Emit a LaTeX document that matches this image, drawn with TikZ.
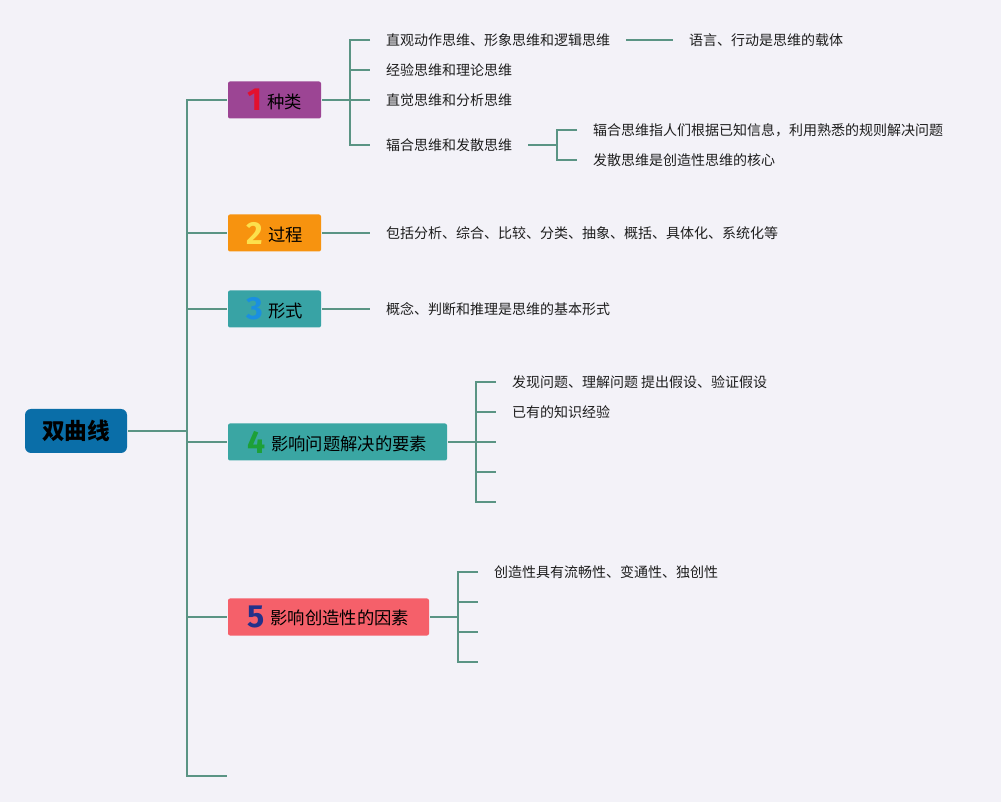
\documentclass[tikz,border=0pt]{standalone}
\usepackage{fontspec}
\newfontfamily\cjk{Noto Sans CJK SC}
\newfontfamily\numfont{Fira Sans}

\definecolor{bgcol}{RGB}{243,242,248}
\definecolor{linecol}{RGB}{90,148,132}
\definecolor{textcol}{RGB}{30,30,30}
\definecolor{rootcol}{RGB}{10,110,168}
\definecolor{kindcol}{RGB}{156,69,148}
\definecolor{proccol}{RGB}{247,147,15}
\definecolor{formcol}{RGB}{56,163,165}
\definecolor{elemcol}{RGB}{58,166,163}
\definecolor{factcol}{RGB}{245,96,106}
\definecolor{numA}{RGB}{227,16,47}
\definecolor{numB}{RGB}{252,224,76}
\definecolor{numC}{RGB}{27,143,224}
\definecolor{numD}{RGB}{29,160,56}
\definecolor{numE}{RGB}{35,49,138}

\newcommand{\ktopic}[3]{{\numfont\bfseries\fontsize{24}{24}\selectfont\color{#1}#2}\hspace{4pt}\raisebox{2pt}{#3}}

\tikzset{every picture/.style={line width=1.5pt}}
\tikzset{
  branch/.style={draw=linecol, line width=1.5pt},
  rootbox/.style={fill=rootcol, rounded corners=4.5pt, minimum width=76.5pt, minimum height=33pt, inner sep=0pt, font=\cjk\bfseries\fontsize{17}{20}\selectfont},
  topic/.style={anchor=west, rounded corners=1.5pt, minimum height=27.75pt, inner sep=0pt, font=\cjk\fontsize{13}{15}\selectfont},
  leaf/.style={anchor=west, inner xsep=11.25pt, inner ysep=2pt, text=textcol, font=\cjk\fontsize{10.5}{12}\selectfont},
}

\begin{document}
\begin{tikzpicture}[x=0.75pt,y=0.75pt,yscale=-1,xscale=1]
	\useasboundingbox (0,0) rectangle (1001,802);
	\fill[bgcol] (0,0) rectangle (1001,802);

	%Root
	\node[rootbox] (root) at (76,431) {双曲线};
	\coordinate (rootj) at (187,431);
	\coordinate (tail) at (227,776);

	%Topics
	\node[topic, fill=kindcol, minimum width=69.75pt] (kind) at (227,100) {\ktopic{numA}{1}{种类}};
	\node[topic, fill=proccol, minimum width=69.75pt] (proc) at (227,233) {\ktopic{numB}{2}{过程}};
	\node[topic, fill=formcol, minimum width=69.75pt] (form) at (227,309) {\ktopic{numC}{3}{形式}};
	\node[topic, fill=elemcol, minimum width=164.25pt] (elem) at (227,442) {\ktopic{numD}{4}{影响问题解决的要素}};
	\node[topic, fill=factcol, minimum width=150.75pt] (fact) at (227,617) {\ktopic{numE}{5}{影响创造性的因素}};

	%Trunk
	\draw[branch] (root) -- (rootj);
	\draw[branch] (kind) -- (kind -| rootj) |- (tail);
	\draw[branch] (proc -| rootj) -- (proc);
	\draw[branch] (form -| rootj) -- (form);
	\draw[branch] (elem -| rootj) -- (elem);
	\draw[branch] (fact -| rootj) -- (fact);

	%Kinds
	\coordinate (kj) at (350,100);
	\node[leaf] (kind1) at (370,40) {直观动作思维、形象思维和逻辑思维};
	\node[leaf] (kind2) at (370,70) {经验思维和理论思维};
	\node[leaf] (kind3) at (370,100) {直觉思维和分析思维};
	\node[leaf] (kind4) at (370,145) {辐合思维和发散思维};
	\draw[branch] (kind) -- (kj);
	\draw[branch] (kind1) -- (kind1 -| kj) |- (kind4);
	\draw[branch] (kind2 -| kj) -- (kind2);
	\draw[branch] (kind3 -| kj) -- (kind3);

	\node[leaf] (carrier) at (673,40) {语言、行动是思维的载体};
	\draw[branch] (kind1) -- (carrier);

	\coordinate (dj) at (557,145);
	\node[leaf] (div1) at (577,130) {辐合思维指人们根据已知信息，利用熟悉的规则解决问题};
	\node[leaf] (div2) at (577,160) {发散思维是创造性思维的核心};
	\draw[branch] (kind4) -- (dj);
	\draw[branch] (div1) -- (div1 -| dj) |- (div2);

	%Process and form
	\node[leaf] (proc1) at (370,233) {包括分析、综合、比较、分类、抽象、概括、具体化、系统化等};
	\draw[branch] (proc) -- (proc1);
	\node[leaf] (form1) at (370,309) {概念、判断和推理是思维的基本形式};
	\draw[branch] (form) -- (form1);

	%Elements
	\coordinate (ej) at (476,442);
	\node[leaf] (elem1) at (496,382) {发现问题、理解问题 提出假设、验证假设};
	\node[leaf] (elem2) at (496,412) {已有的知识经验};
	\coordinate (e3) at (496,442);
	\coordinate (e4) at (496,472);
	\coordinate (e5) at (496,502);
	\draw[branch] (elem1) -- (elem1 -| ej) |- (e5);
	\draw[branch] (elem2 -| ej) -- (elem2);
	\draw[branch] (elem) -- (e3);
	\draw[branch] (e4 -| ej) -- (e4);

	%Factors
	\coordinate (fj) at (458,617);
	\node[leaf] (fact1) at (478,572) {创造性具有流畅性、变通性、独创性};
	\coordinate (f2) at (478,602);
	\coordinate (f3) at (478,632);
	\coordinate (f4) at (478,662);
	\draw[branch] (fact1) -- (fact1 -| fj) |- (f4);
	\draw[branch] (fact) -- (fj);
	\draw[branch] (f2 -| fj) -- (f2);
	\draw[branch] (f3 -| fj) -- (f3);

\end{tikzpicture}
\end{document}
